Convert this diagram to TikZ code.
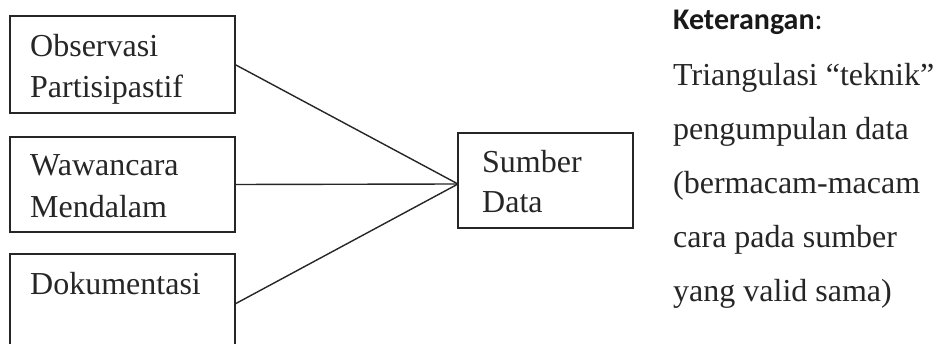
\documentclass[tikz,border=0pt]{standalone}
\usepackage{fontspec}
\setmainfont{Liberation Serif}
\newfontfamily\calibrifont{Carlito}
\begin{document}
\begin{tikzpicture}[x=1pt,y=-1pt,
  box/.style={draw=black!85,line width=1.4pt,inner sep=0pt,outer sep=0pt,anchor=north west},
  lbl/.style={anchor=base west,inner sep=0pt,text=black!85,font=\fontsize{32}{38}\selectfont},
  conn/.style={draw=black!85,line width=1.4pt}]
\useasboundingbox (0,0) rectangle (934,344);
\clip (0,0) rectangle (934,344);
\fill[white] (0,0) rectangle (934,344);
% left boxes
\node[box,minimum width=225pt,minimum height=97pt] (obs) at (10,16) {};
\node[box,minimum width=225pt,minimum height=95pt] (waw) at (10,137) {};
\node[box,minimum width=225pt,minimum height=100pt] (dok) at (10,254) {};
\node[box,minimum width=175pt,minimum height=95pt] (sum) at (458,133) {};
% labels
\node[lbl] (t1) at (30,57) {Observasi};
\node[lbl] (t2) at (30,98) {Partisipastif};
\node[lbl] (t3) at (30,176) {Wawancara};
\node[lbl] (t4) at (30,218) {Mendalam};
\node[lbl] (t5) at (30,295) {Dokumentasi};
\node[lbl] (t6) at (482,173) {Sumber};
\node[lbl] (t7) at (482,213) {Data};
% connectors
\coordinate (meet) at ([yshift=-3.5pt]sum.west);
\draw[conn] (obs.east) -- (meet);
\draw[conn] (waw.east) -- (meet);
\draw[conn] (dok.east) -- (meet);
% legend
\node[anchor=base west,inner sep=0pt,text=black!90,font=\calibrifont\fontsize{30}{36}\selectfont] (ket) at (673,30) {\textbf{Keterangan}:};
\node[lbl] (k1) at (673,86) {Triangulasi “teknik”};
\node[lbl] (k2) at (673,140) {pengumpulan data};
\node[lbl] (k3) at (673,194) {(bermacam-macam};
\node[lbl] (k4) at (673,248) {cara pada sumber};
\node[lbl] (k5) at (673,302) {yang valid sama)};
\end{tikzpicture}
\end{document}
